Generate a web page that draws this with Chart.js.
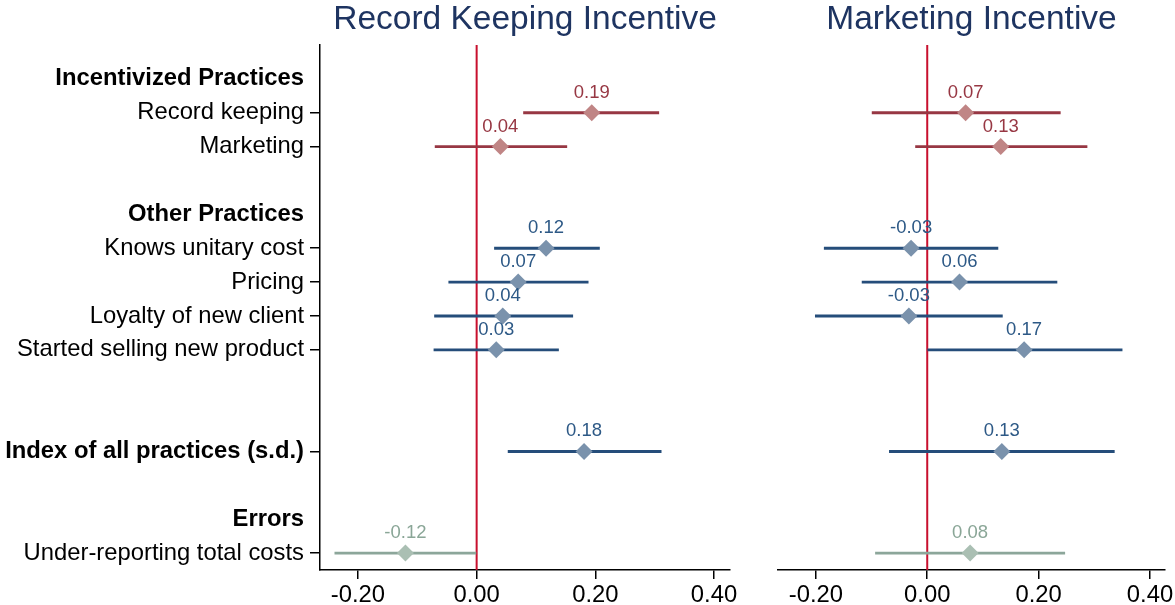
<!DOCTYPE html>
<html lang="en">
<head>
  <meta charset="utf-8"/>
  <title>Treatment effects by incentive</title>
  <script src="https://cdn.jsdelivr.net/npm/chart.js@4.4.1/dist/chart.umd.min.js"></script>
  <style>
    body { margin: 0; background: #fff; }
    .panel { position: absolute; top: 0; height: 605px; }
    #leftBox { left: 0; width: 745px; }
    #rightBox { left: 760px; width: 415px; }
  </style>
</head>
<body>
<div class="panel" id="leftBox"><canvas id="leftChart" width="745" height="605"></canvas></div>
<div class="panel" id="rightBox"><canvas id="rightChart" width="415" height="605"></canvas></div>

<script>
// rows on the y axis, top to bottom (blank = spacer)
const rowLabels = [
  "Incentivized Practices", "Record keeping", "Marketing", "",
  "Other Practices", "Knows unitary cost", "Pricing", "Loyalty of new client",
  "Started selling new product", "", "", "Index of all practices (s.d.)", "",
  "Errors", "Under-reporting total costs"
];
const labelRows = [0, 1, 2, 4, 5, 6, 7, 8, 11, 13, 14];
const boldRows = [0, 4, 11, 13];
const headerRows = [0, 4, 13];

// estimate rows and their group
const estRows = [1, 2, 5, 6, 7, 8, 11, 14];
const estGroup = ["inc", "inc", "oth", "oth", "oth", "oth", "oth", "err"];

// Record Keeping Incentive
const recordEst  = [0.194, 0.040, 0.117, 0.070, 0.044, 0.033, 0.181, -0.120];
const recordLow  = [0.079, -0.070, 0.030, -0.047, -0.071, -0.072, 0.053, -0.239];
const recordHigh = [0.307, 0.152, 0.207, 0.188, 0.162, 0.138, 0.311, 0.000];

// Marketing Incentive
const marketEst  = [0.069, 0.132, -0.029, 0.058, -0.033, 0.174, 0.134, 0.077];
const marketLow  = [-0.099, -0.021, -0.185, -0.117, -0.201, 0.001, -0.068, -0.093];
const marketHigh = [0.239, 0.287, 0.127, 0.233, 0.135, 0.350, 0.336, 0.247];

const xTicks = [-0.2, 0, 0.2, 0.4];

const lineColors   = { inc: "#973743", oth: "#254d7a", err: "#8ca69a" };
const markerColors = { inc: "#c08585", oth: "#7a92ac", err: "#aabfb3" };
const textColors   = { inc: "#973743", oth: "#2d5986", err: "#8aa697" };

Chart.defaults.font.family = "'Liberation Sans', Arial, sans-serif";
Chart.defaults.color = "#000";

function makePanel(id, title, est, low, high, xMin, xMax, showY, pad) {
  const valueLabels = {
    id: "valueLabels",
    afterDatasetsDraw(chart) {
      const ctx = chart.ctx;
      const meta = chart.getDatasetMeta(2);
      ctx.save();
      ctx.font = "18.5px 'Liberation Sans', Arial, sans-serif";
      ctx.textAlign = "center";
      ctx.textBaseline = "alphabetic";
      meta.data.forEach((pt, i) => {
        ctx.fillStyle = textColors[estGroup[i]];
        ctx.fillText(est[i].toFixed(2), pt.x, pt.y - 15);
      });
      ctx.restore();
    }
  };

  return new Chart(document.getElementById(id), {
    type: "scatter",
    data: {
      datasets: [
        {
          type: "line",
          data: [{ x: 0, y: -1 }, { x: 0, y: 14.5 }],
          borderColor: "#c8102e",
          borderWidth: 2,
          pointRadius: 0,
          order: 3
        },
        {
          type: "bar",
          indexAxis: "y",
          data: estRows.map((r, i) => ({ y: r, x: [low[i], high[i]] })),
          backgroundColor: estGroup.map(g => lineColors[g]),
          barThickness: 2.2,
          borderWidth: 0,
          grouped: false,
          order: 2
        },
        {
          type: "scatter",
          data: estRows.map((r, i) => ({ x: est[i], y: r })),
          pointStyle: "rectRot",
          pointRadius: 8.5,
          pointHoverRadius: 8.5,
          borderWidth: 0,
          backgroundColor: estGroup.map(g => markerColors[g]),
          order: 1
        }
      ]
    },
    options: {
      responsive: false,
      animation: false,
      events: [],
      layout: { padding: pad },
      plugins: {
        legend: { display: false },
        tooltip: { enabled: false },
        title: {
          display: true,
          text: title,
          fullSize: false,
          color: "#1e3461",
          font: { size: 33.5, weight: "normal", lineHeight: 1.2 },
          padding: { top: 0, bottom: 4.8 }
        }
      },
      scales: {
        x: {
          type: "linear",
          min: xMin,
          max: xMax,
          offset: false,
          afterBuildTicks: s => { s.ticks = xTicks.map(v => ({ value: v })); },
          afterFit: s => { s.height = 35; s.paddingLeft = 0; s.paddingRight = 0; },
          ticks: {
            font: { size: 23.8 },
            padding: 2,
            color: "#000",
            callback: v => v.toFixed(2)
          },
          grid: { offset: false, drawOnChartArea: false, tickLength: 9, color: "#000", lineWidth: 1.5 },
          border: { display: true, color: "#000", width: 1.5 }
        },
        y: {
          type: "linear",
          reverse: true,
          min: -1,
          max: 14.5,
          offset: false,
          display: showY,
          afterBuildTicks: s => { s.ticks = labelRows.map(v => ({ value: v })); },
          afterFit: s => { if (showY) s.width = 320; },
          ticks: {
            autoSkip: false,
            padding: 6,
            color: "#000",
            font: c => ({ size: 23.8, weight: boldRows.includes(c.tick && c.tick.value) ? "bold" : "normal" }),
            callback: v => rowLabels[v]
          },
          grid: {
            offset: false,
            drawOnChartArea: false,
            tickLength: 10,
            lineWidth: 1.5,
            tickColor: c => headerRows.includes(c.tick && c.tick.value) ? "rgba(0,0,0,0)" : "#000"
          },
          border: { display: true, color: "#000", width: 1.5 }
        }
      }
    },
    plugins: [valueLabels]
  });
}

makePanel("leftChart", "Record Keeping Incentive", recordEst, recordLow, recordHigh,
  -0.264, 0.427, true, { top: 0, left: 0, right: 15, bottom: 0 });
makePanel("rightChart", "Marketing Incentive", marketEst, marketLow, marketHigh,
  -0.268, 0.427, false, { top: 0, left: 18, right: 10, bottom: 0 });
</script>
</body>
</html>
